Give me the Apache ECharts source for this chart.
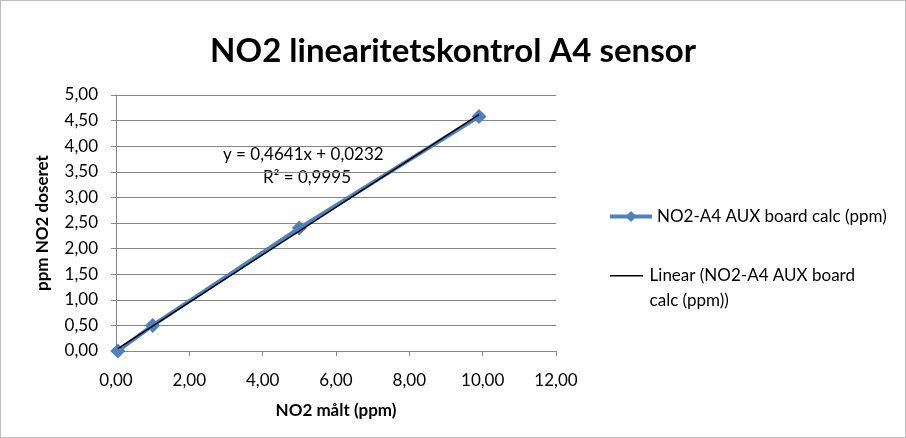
<!DOCTYPE html>
<html>
<head>
<meta charset="utf-8">
<script src="https://cdn.jsdelivr.net/npm/echarts@6/dist/echarts.min.js"></script>
<style>
  html, body { margin: 0; padding: 0; background: #fff; }
  #chart-container { width: 904px; height: 436px; border: 1px solid #bfbfbf; }
</style>
</head>
<body>
<div id="chart-container"></div>
<script>
// measured NO2 (ppm) vs dosed NO2 (ppm)
const maaltX = [0.05, 1.0, 5.0, 9.9]
const doseretY = [0.0, 0.5, 2.4, 4.58]
const slope = 0.4641
const intercept = 0.0232
const r2Text = 'R² = 0,9995'
const eqText = 'y = 0,4641x + 0,0232'
const seriesName = 'NO2-A4 AUX board calc (ppm)'
const trendName = 'Linear (NO2-A4 AUX board calc (ppm))'

const fmt = v => v.toFixed(2).replace('.', ',')
const font = 'Lato'

const pts = maaltX.map((x, i) => [x, doseretY[i]])
const xMin = Math.min(...maaltX), xMax = Math.max(...maaltX)
const trend = [[xMin, slope * xMin + intercept], [xMax, slope * xMax + intercept]]

const myChart = echarts.init(document.getElementById('chart-container'))
const option = {
    animation: false,
    title: {
        text: 'NO2 linearitetskontrol A4 sensor',
        left: 'center',
        top: 29,
        textStyle: { fontFamily: font, fontSize: 33, fontWeight: 'bold', color: '#000' }
    },
    grid: { left: 115, right: 349, top: 94, bottom: 86 },
    legend: [
        {
            data: [seriesName],
            left: 607, top: 207,
            padding: 0,
            itemWidth: 42, itemHeight: 14,
            lineStyle: { width: 4 },
            textStyle: { fontFamily: font, fontSize: 17, color: '#000' }
        },
        {
            // icon: thin line on top, tiny dot at bottom so the line lines up with the first text row
            data: [{ name: trendName, icon: 'path://M0,0 L32,0 L32,1.5 L0,1.5 Z M0,25 L0.1,25 L0.1,25.1 Z' }],
            left: 609, top: 262,
            padding: 0,
            itemWidth: 36, itemHeight: 26,
            formatter: () => 'Linear (NO2-A4 AUX board\ncalc (ppm))',
            textStyle: { fontFamily: font, fontSize: 17, color: '#000', lineHeight: 25 }
        }
    ],
    xAxis: {
        type: 'value',
        min: 0, max: 12, interval: 2,
        name: 'NO2 målt (ppm)',
        nameLocation: 'middle',
        nameGap: 51,
        nameTextStyle: { fontFamily: font, fontSize: 17, fontWeight: 'bold', color: '#000' },
        axisLine: { lineStyle: { color: '#868686' } },
        axisTick: { show: true, length: 5, lineStyle: { color: '#868686' } },
        axisLabel: { formatter: fmt, fontFamily: font, fontSize: 17, color: '#000', margin: 21 },
        splitLine: { show: false }
    },
    yAxis: {
        type: 'value',
        min: 0, max: 5, interval: 0.5,
        name: 'ppm NO2 doseret',
        nameLocation: 'middle',
        nameGap: 65,
        nameTextStyle: { fontFamily: font, fontSize: 17, fontWeight: 'bold', color: '#000' },
        axisLine: { show: true, lineStyle: { color: '#868686' } },
        axisTick: { show: true, length: 5, lineStyle: { color: '#868686' } },
        axisLabel: { formatter: fmt, fontFamily: font, fontSize: 17, color: '#000', margin: 18 },
        splitLine: { lineStyle: { color: '#868686' } }
    },
    graphic: [
        {
            type: 'text', left: 222, top: 145,
            style: { text: eqText, fontFamily: font, fontSize: 17, fill: '#000' }
        },
        {
            type: 'text', left: 262, top: 168,
            style: { text: r2Text, fontFamily: font, fontSize: 17, fill: '#000' }
        }
    ],
    series: [
        {
            name: seriesName,
            type: 'line',
            data: pts,
            symbol: 'diamond',
            symbolSize: 15,
            itemStyle: { color: '#4F81BD' },
            lineStyle: { color: '#4F81BD', width: 4 },
            z: 2
        },
        {
            name: trendName,
            type: 'line',
            data: trend,
            symbol: 'none',
            itemStyle: { color: '#000' },
            lineStyle: { color: '#000', width: 1.5 },
            z: 3
        }
    ]
}

option && myChart.setOption(option)
</script>
</body>
</html>
